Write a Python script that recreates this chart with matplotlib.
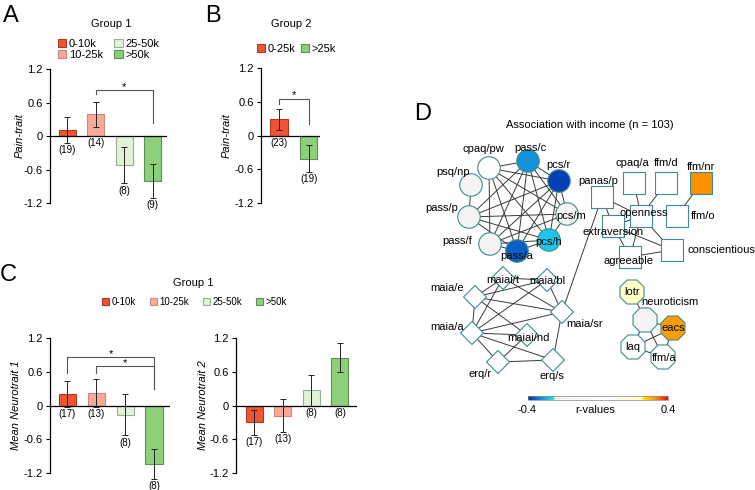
import matplotlib
matplotlib.use('Agg')
import matplotlib.pyplot as plt
import numpy as np
from matplotlib.patches import Patch
from matplotlib.colors import LinearSegmentedColormap, Normalize
from matplotlib.cm import ScalarMappable

plt.rcParams['font.family'] = ['Liberation Sans', 'DejaVu Sans']

# ---------------- data ----------------
cats_g1 = ['0-10k', '10-25k', '25-50k', '>50k']
cats_g2 = ['0-25k', '>25k']

a_mean = [0.11, 0.39, -0.52, -0.81]
a_err = [0.23, 0.22, 0.33, 0.30]
a_n = [19, 14, 8, 9]

b_mean = [0.29, -0.41]
b_err = [0.19, 0.24]
b_n = [23, 19]

c1_mean = [0.21, 0.23, -0.16, -1.04]
c1_err = [0.23, 0.25, 0.37, 0.26]
c1_n = [17, 13, 8, 8]

c2_mean = [-0.30, -0.18, 0.27, 0.85]
c2_err = [0.22, 0.29, 0.28, 0.26]
c2_n = [17, 13, 8, 8]

yticks = [-1.2, -0.6, 0, 0.6, 1.2]
ytick_labels = ['-1.2', '-0.6', '0', '0.6', '1.2']

# network nodes: name, r-value
circle_nodes = ['cpaq/pw', 'pass/c', 'pcs/r', 'psq/np', 'pass/p', 'pcs/m', 'pass/f', 'pcs/h', 'pass/a']
circle_r = [0.0, -0.32, -0.385, -0.18, -0.18, -0.18, -0.18, -0.28, -0.36]
square_nodes = ['panas/p', 'cpaq/a', 'ffm/d', 'ffm/nr', 'openness', 'ffm/o', 'extraversion', 'agreeable', 'conscientious']
square_r = [0.0, 0.0, 0.0, 0.325, 0.0, 0.0, 0.0, 0.0, 0.0]
diamond_nodes = ['maiai/t', 'maia/bl', 'maia/e', 'maia/sr', 'maia/a', 'maiai/nd', 'erq/r', 'erq/s']
diamond_r = [0.0, 0.0, 0.0, 0.0, 0.0, 0.0, 0.0, 0.0]
octagon_nodes = ['lotr', 'neuroticism', 'eacs', 'laq', 'ffm/a']
octagon_r = [0.245, -0.18, 0.32, 0.0, 0.0]

edges = [
    ('cpaq/pw', 'pass/c'), ('cpaq/pw', 'pcs/r'), ('cpaq/pw', 'pass/f'), ('cpaq/pw', 'pass/a'),
    ('cpaq/pw', 'pcs/h'), ('cpaq/pw', 'pcs/m'),
    ('pass/c', 'pcs/r'), ('pass/c', 'pass/p'), ('pass/c', 'pass/f'), ('pass/c', 'pass/a'),
    ('pass/c', 'pcs/m'), ('pass/c', 'pcs/h'),
    ('pcs/r', 'pass/p'), ('pcs/r', 'pass/f'), ('pcs/r', 'pcs/m'), ('pcs/r', 'pcs/h'), ('pcs/r', 'pass/a'),
    ('psq/np', 'pass/p'),
    ('pass/p', 'pcs/m'), ('pass/p', 'pcs/h'), ('pass/p', 'pass/a'),
    ('pass/f', 'pcs/h'), ('pass/f', 'pass/a'), ('pass/f', 'pcs/m'),
    ('pcs/m', 'pcs/h'), ('pcs/h', 'pass/a'),
    ('panas/p', 'openness'), ('panas/p', 'extraversion'), ('panas/p', 'maia/sr'),
    ('cpaq/a', 'openness'), ('ffm/d', 'openness'), ('ffm/nr', 'ffm/o'),
    ('openness', 'extraversion'), ('openness', 'agreeable'), ('openness', 'conscientious'),
    ('extraversion', 'agreeable'), ('extraversion', 'conscientious'), ('agreeable', 'conscientious'),
    ('maiai/t', 'maia/bl'), ('maiai/t', 'maia/e'), ('maiai/t', 'maia/a'), ('maiai/t', 'maia/sr'),
    ('maia/bl', 'maia/e'), ('maia/bl', 'maia/sr'), ('maia/bl', 'maia/a'),
    ('maia/e', 'maia/sr'), ('maia/e', 'maia/a'), ('maia/e', 'maiai/nd'),
    ('maia/a', 'maia/sr'), ('maia/a', 'maiai/nd'), ('maia/a', 'erq/r'), ('maia/a', 'erq/s'),
    ('maiai/nd', 'erq/r'), ('erq/r', 'erq/s'), ('maia/sr', 'erq/s'),
    ('lotr', 'neuroticism'), ('neuroticism', 'eacs'), ('neuroticism', 'laq'), ('neuroticism', 'ffm/a'),
    ('eacs', 'laq'), ('eacs', 'ffm/a'), ('laq', 'ffm/a'),
]

# ---------------- layout (pixel positions) ----------------
node_pos = {
    'cpaq/pw': (489, 168), 'pass/c': (528, 161), 'pcs/r': (559, 181), 'psq/np': (471, 185),
    'pass/p': (469, 217), 'pcs/m': (567, 214), 'pass/f': (490, 244), 'pcs/h': (549, 240),
    'pass/a': (517, 251),
    'panas/p': (602, 197), 'cpaq/a': (634, 183), 'ffm/d': (666, 183), 'ffm/nr': (701, 183),
    'openness': (641, 216), 'ffm/o': (677, 216), 'extraversion': (613, 226),
    'agreeable': (630, 257), 'conscientious': (672, 250),
    'maiai/t': (503, 278), 'maia/bl': (547, 280), 'maia/e': (475, 297), 'maia/sr': (562, 312),
    'maia/a': (472, 333), 'maiai/nd': (527, 335), 'erq/r': (498, 362), 'erq/s': (553, 360),
    'lotr': (632, 292), 'neuroticism': (645, 320), 'eacs': (673, 328), 'laq': (633, 347),
    'ffm/a': (663, 357),
}
label_pos = {
    'cpaq/pw': (483, 149), 'pass/c': (530, 148), 'pcs/r': (558, 165), 'psq/np': (453, 172),
    'pass/p': (442, 208), 'pcs/m': (571, 216), 'pass/f': (457, 241), 'pcs/h': (549, 242),
    'pass/a': (517, 256),
    'panas/p': (598, 181), 'cpaq/a': (632, 163), 'ffm/d': (666, 163), 'ffm/nr': (701, 167),
    'openness': (644, 213), 'ffm/o': (703, 216), 'extraversion': (613, 232),
    'agreeable': (629, 261), 'conscientious': (721, 250),
    'maiai/t': (503, 280), 'maia/bl': (547, 281), 'maia/e': (447, 288), 'maia/sr': (585, 324),
    'maia/a': (447, 327), 'maiai/nd': (528, 338), 'erq/r': (480, 374), 'erq/s': (552, 376),
    'lotr': (632, 292), 'neuroticism': (670, 302), 'eacs': (673, 328), 'laq': (633, 347),
    'ffm/a': (664, 358),
}

W, H = 755, 490
fig = plt.figure(figsize=(W / 100, H / 100), dpi=100)

def add_ax(x0, x1, ytop, ybot):
    return fig.add_axes([x0 / W, 1 - ybot / H, (x1 - x0) / W, (ybot - ytop) / H])

col_g1 = ['#ef5533', '#f9a99b', '#e2f2d8', '#8ed07a']
edge_g1 = ['#a83a22', '#c98a7e', '#98b090', '#5f8f50']
col_g2 = ['#ef5533', '#8ed07a']
edge_g2 = ['#a83a22', '#5f8f50']

def bar_panel(ax, means, errs, ns, colors, edgecols, width, xlim, ylabel, label_x):
    x = np.arange(len(means))
    ax.bar(x, means, width, color=colors, edgecolor=edgecols, linewidth=0.8, zorder=2)
    cont = ax.errorbar(x, means, yerr=errs, fmt='none', ecolor='#222222',
                       elinewidth=0.7, capsize=2, capthick=0.7, zorder=3)
    for art in cont.get_children():
        art.set_clip_on(False)
    ax.axhline(0, color='black', lw=0.9, zorder=4)
    for xi, m, e, n in zip(x, means, errs, ns):
        ax.text(xi, min(0, m - e) - 0.04, f'({n})', ha='center', va='top', fontsize=7)
    ax.set_ylim(-1.2, 1.2)
    ax.set_xlim(*xlim)
    ax.set_yticks(yticks)
    ax.set_yticklabels(ytick_labels)
    ax.set_xticks([])
    for s in ['top', 'right', 'bottom']:
        ax.spines[s].set_visible(False)
    ax.spines['left'].set_linewidth(0.9)
    ax.tick_params(axis='y', length=3, width=0.8, labelsize=8, pad=2)
    ax.set_ylabel(ylabel, style='italic', fontsize=8)
    ax.yaxis.set_label_coords(label_x, 0.5)
    ax.patch.set_alpha(0)

def bracket(ax, x1, x2, y, y1, y2, ystar):
    ax.plot([x1, x1, x2, x2], [y1, y, y, y2], color='#555555', lw=0.8, clip_on=False)
    ax.text((x1 + x2) / 2, ystar, '*', ha='center', va='center', fontsize=8)

# Panel A
axA = add_ax(50, 167, 69, 203)
bar_panel(axA, a_mean, a_err, a_n, col_g1, edge_g1, 0.6, (-0.6, 3.5), 'Pain-trait', (25 - 50) / 117)
bracket(axA, 1, 3, 0.82, 0.75, 0.23, 0.88)

# Panel B
axB = add_ax(261, 320, 68, 203)
bar_panel(axB, b_mean, b_err, b_n, col_g2, edge_g2, 0.57, (-0.6, 1.37), 'Pain-trait', (232 - 261) / 59)
bracket(axB, 0, 1, 0.65, 0.56, 0.2, 0.71)

# Panel C left
axC1 = add_ax(50, 170, 338, 473)
bar_panel(axC1, c1_mean, c1_err, c1_n, col_g1, edge_g1, 0.6, (-0.6, 3.55), 'Mean Neurotrait 1', (21 - 50) / 120)
bracket(axC1, 0, 3, 0.86, 0.57, 0.3, 0.92)
bracket(axC1, 1, 3, 0.70, 0.57, 0.3, 0.76)

# Panel C right
axC2 = add_ax(236, 357, 338, 473)
bar_panel(axC2, c2_mean, c2_err, c2_n, col_g1, edge_g1, 0.6, (-0.64, 3.6), 'Mean Neurotrait 2', (208 - 236) / 121)

# Titles, panel letters, legends
fig.text(111 / W, 1 - 24 / H, 'Group 1', ha='center', va='center', fontsize=8)
fig.text(291 / W, 1 - 24 / H, 'Group 2', ha='center', va='center', fontsize=8)
fig.text(193 / W, 1 - 283 / H, 'Group 1', ha='center', va='center', fontsize=8)
for letter, px, py in [('A', 3, 16), ('B', 205, 16), ('C', 0, 275), ('D', 414, 114)]:
    fig.text(px / W, 1 - py / H, letter, ha='left', va='center', fontsize=17)

h1 = [Patch(facecolor=c, edgecolor=e, linewidth=0.8) for c, e in zip(col_g1, edge_g1)]
h2 = [Patch(facecolor=c, edgecolor=e, linewidth=0.8) for c, e in zip(col_g2, edge_g2)]
fig.legend(h1, cats_g1, loc='upper left', bbox_to_anchor=(58 / W, 1 - 39 / H), ncol=2,
           frameon=False, fontsize=8, handlelength=0.75, handleheight=0.75, handletextpad=0.25,
           columnspacing=1.0, labelspacing=0.05, borderpad=0, borderaxespad=0)
fig.legend(h2, cats_g2, loc='upper left', bbox_to_anchor=(257 / W, 1 - 44 / H), ncol=2,
           frameon=False, fontsize=8, handlelength=0.75, handleheight=0.75, handletextpad=0.2,
           columnspacing=0.5, borderpad=0, borderaxespad=0)
fig.legend(h1, cats_g1, loc='upper left', bbox_to_anchor=(102 / W, 1 - 297 / H), ncol=4,
           frameon=False, fontsize=7, handlelength=0.75, handleheight=0.75, handletextpad=0.25,
           columnspacing=1.4, borderpad=0, borderaxespad=0)

# Panel D network
cmap = LinearSegmentedColormap.from_list('rv', [
    (0.0, '#0030b0'), (0.16, '#20d0f0'), (0.18, '#20d8f0'), (0.19, '#f0f0f0'),
    (0.5, '#ffffff'), (0.81, '#ffffc8'), (0.83, '#ffe000'), (0.9, '#ffa000'), (1.0, '#e81000')])
norm = Normalize(-0.4, 0.4)

axN = add_ax(400, 755, 100, 430)
axN.set_xlim(400, 755)
axN.set_ylim(430, 100)
axN.axis('off')

for a, b in edges:
    (x1, y1), (x2, y2) = node_pos[a], node_pos[b]
    axN.plot([x1, x2], [y1, y2], color='#3a3a3a', lw=0.7, zorder=1)

def draw_nodes(names, rvals, marker, size):
    xs = [node_pos[n][0] for n in names]
    ys = [node_pos[n][1] for n in names]
    axN.scatter(xs, ys, s=size, marker=marker, c=[cmap(norm(r)) for r in rvals],
                edgecolors='#3f8c8c', linewidths=0.8, zorder=2)
    for n in names:
        lx, ly = label_pos[n]
        axN.text(lx, ly, n, ha='center', va='center', fontsize=8, zorder=3)

draw_nodes(circle_nodes, circle_r, 'o', 262)
draw_nodes(square_nodes, square_r, 's', 274)
draw_nodes(diamond_nodes, diamond_r, 'D', 137)
draw_nodes(octagon_nodes, octagon_r, '8', 350)

fig.text(590 / W, 1 - 125 / H, 'Association with income (n = 103)', ha='center', va='center', fontsize=8)

cax = add_ax(528, 668, 396, 400)
cb = fig.colorbar(ScalarMappable(norm=norm, cmap=cmap), cax=cax, orientation='horizontal')
cb.set_ticks([])
cb.outline.set_linewidth(0.5)
cb.outline.set_edgecolor('#888888')
fig.text(527 / W, 1 - 410 / H, '-0.4', ha='center', va='center', fontsize=8)
fig.text(595 / W, 1 - 410 / H, 'r-values', ha='center', va='center', fontsize=8)
fig.text(668 / W, 1 - 410 / H, '0.4', ha='center', va='center', fontsize=8)

fig.savefig('out.png', dpi=100)
